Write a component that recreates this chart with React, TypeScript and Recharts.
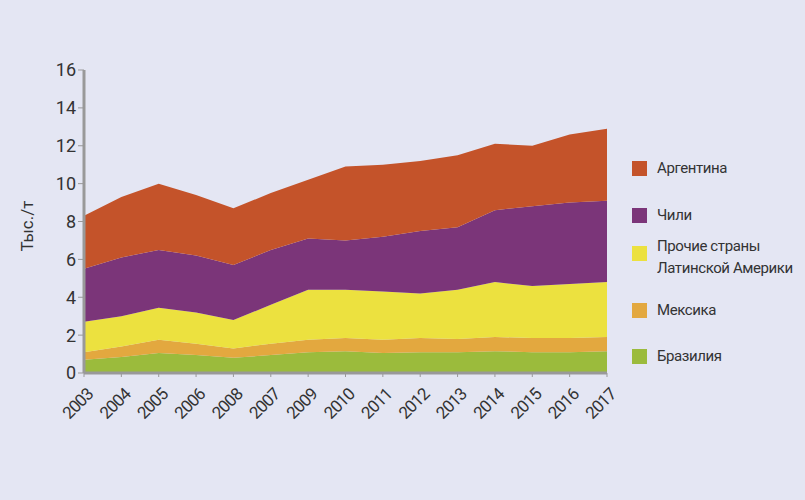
import React from "react";
import { AreaChart, Area, XAxis, YAxis } from "recharts";

const years = ["2003","2004","2005","2006","2008","2007","2009","2010","2011","2012","2013","2014","2015","2016","2017"];
const brazil = [0.7,0.85,1.05,0.95,0.8,0.95,1.1,1.15,1.05,1.1,1.1,1.15,1.1,1.1,1.15];
const mexico = [0.4,0.55,0.7,0.6,0.5,0.6,0.65,0.7,0.7,0.75,0.7,0.75,0.75,0.75,0.75];
const other = [1.6,1.6,1.7,1.65,1.5,2.05,2.65,2.55,2.55,2.35,2.6,2.9,2.75,2.85,2.9];
const chile = [2.8,3.1,3.05,3.0,2.9,2.9,2.7,2.6,2.9,3.3,3.3,3.8,4.2,4.3,4.3];
const argentina = [2.8,3.2,3.5,3.2,3.0,3.0,3.1,3.9,3.8,3.7,3.8,3.5,3.2,3.6,3.8];
const yTicks = [0,2,4,6,8,10,12,14,16];

const series = [
  { key: "brazil", color: "#9bbb3c" },
  { key: "mexico", color: "#e3a83f" },
  { key: "other", color: "#ece13f" },
  { key: "chile", color: "#7b3579" },
  { key: "argentina", color: "#c4532a" },
];

const data = years.map((y, i) => ({
  year: y, brazil: brazil[i], mexico: mexico[i], other: other[i], chile: chile[i], argentina: argentina[i],
}));

const legendItems = [
  { name: "Аргентина", color: "#c4532a", y: 168 },
  { name: "Чили", color: "#7b3579", y: 215 },
  { name: "Прочие страны\nЛатинской Америки", color: "#ece13f", y: 262 },
  { name: "Мексика", color: "#e3a83f", y: 310 },
  { name: "Бразилия", color: "#9bbb3c", y: 356 },
];

const XTick = (props: any) => {
  const { x, y, payload } = props;
  const ax = x + 6, ay = y + 12;
  return (
    <text x={ax} y={ay} transform={`rotate(-45 ${ax} ${ay})`} textAnchor="end" dominantBaseline="central" fill="#333" fontSize={17} fontFamily="Roboto" style={{ letterSpacing: -0.8 }}>
      {payload.value}
    </text>
  );
};

export default function App() {
  return (
    <div style={{ position: "fixed", left: 0, top: 0, width: 805, height: 500, background: "#e4e6f3", fontFamily: "Roboto" }}>
      <AreaChart width={805} height={500} data={data} margin={{ top: 70, right: 198, left: 34, bottom: 67 }}>
        <XAxis dataKey="year" height={60} tick={<XTick />} tickLine={{ stroke: "#999" }} axisLine={{ stroke: "#999", strokeWidth: 3 }} interval={0} tickSize={4} />
        <YAxis width={50} domain={[0, 16]} ticks={yTicks} tick={{ fill: "#333", fontSize: 18, fontFamily: "Roboto" }} tickLine={{ stroke: "#999" }} axisLine={{ stroke: "#999", strokeWidth: 3 }} tickSize={6}
          label={{ value: "Тыс./т", angle: -90, position: "insideLeft", dx: -12, dy: 30, fill: "#333", fontSize: 17, fontFamily: "Roboto" }} />
        {series.map((s) => (
          <Area key={s.key} type="linear" dataKey={s.key} stackId="1" stroke="none" fill={s.color} fillOpacity={1} isAnimationActive={false} />
        ))}
      </AreaChart>
      {legendItems.map((l) => (
        <div key={l.name} style={{ position: "absolute", left: 632, top: l.y - 8, display: "flex", alignItems: "flex-start" }}>
          <div style={{ width: 15, height: 15, background: l.color, marginTop: l.name.includes("\n") ? -8 : 1 }} />
          <div style={{ marginLeft: 10, fontSize: 15, letterSpacing: -0.4, color: "#333", whiteSpace: "pre", lineHeight: "22px", marginTop: l.name.includes("\n") ? -19 : -3 }}>{l.name}</div>
        </div>
      ))}
    </div>
  );
}
